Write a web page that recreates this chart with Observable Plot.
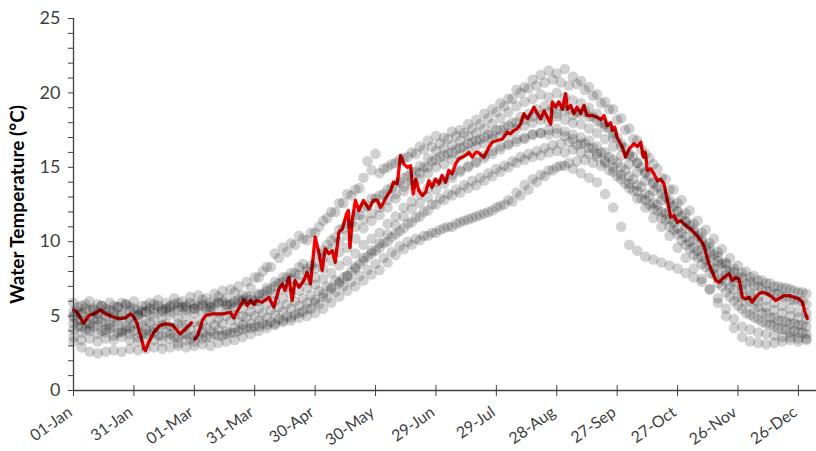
<!DOCTYPE html>
<html><head><meta charset="utf-8">
<script src="https://cdn.jsdelivr.net/npm/d3@7"></script>
<script src="https://cdn.jsdelivr.net/npm/@observablehq/plot@0.6"></script>
<style>
body{margin:0;background:#fff;}
g[aria-label="y-axis label"] text{font-weight:bold;font-size:19px;fill:#000;}
</style></head><body><div id="chart"></div>
<script>
// x tick positions (day of year) and labels
const xTickDays = [0,30,60,90,120,150,180,210,240,270,300,330,360];
const xTickLabels = ["01-Jan","31-Jan","01-Mar","31-Mar","30-Apr","30-May","29-Jun","29-Jul","28-Aug","27-Sep","27-Oct","26-Nov","26-Dec"];
const yTicks = d3.range(0, 26, 1);

// grey cloud: several years sampled every 4 days
const gDays = d3.range(0, 365, 4);   // 0..364
const g2Days = d3.range(2, 365, 4);  // 2..362
const year1 = [5.9,5.7,6.0,5.8,5.5,5.7,5.9,5.6,5.4,5.7, 5.8,5.5,5.7,5.9,5.6,5.8,6.1,5.9,6.3,6.2, 6.6,6.4,6.9,7.6,8.3,9.2,9.6,9.9,10.4,10.1, 10.6,11.4,12.0,12.6,13.2,13.5,14.3,14.8,14.6,15.0, 15.3,15.6,16.0,16.4,16.8,17.1,17.0,17.4,17.5,17.9, 18.2,18.6,18.9,19.3,19.6,20.2,20.4,20.9,21.2,21.5, 21.3,21.6,21.1,20.8,20.4,19.9,19.4,18.9,18.3,17.6, 16.8,15.9,15.2,14.3,13.5,12.6,11.9,11.2,10.6,9.9, 9.3,8.6,8.2,7.9,7.6,7.4,7.2,7.0,6.9,6.8, 6.6,6.5];
const year2 = [5.3,5.1,5.4,5.2,5.0,5.3,5.1,4.9,5.1,5.3, 5.2,5.4,5.3,5.6,5.4,5.5,5.7,5.6,5.9,5.8, 6.0,6.1,6.3,6.5,6.9,7.3,7.6,7.9,8.3,8.2, 8.6,9.4,10.1,10.8,11.2,11.8,12.3,12.9,13.1,13.5, 13.9,14.3,14.7,15.1,15.6,16.1,16.3,16.5,16.8,17.1, 17.3,17.6,17.9,18.3,18.7,19.1,19.4,19.6,19.9,19.7, 20.0,19.7,19.5,19.3,19.0,18.6,17.9,17.3,16.6,15.9, 15.3,14.7,14.0,13.5,12.8,12.1,11.4,10.8,10.2,9.6, 9.0,8.5,8.0,7.6,7.3,7.0,6.7,6.5,6.3,6.1, 6.0,5.8];
const year3 = [4.9,4.7,4.5,4.8,4.6,4.9,4.7,4.8,5.0,4.7, 4.9,4.8,5.1,4.9,5.0,5.2,5.1,5.3,5.2,5.5, 5.6,5.5,5.8,6.0,6.3,6.5,6.8,7.0,7.3,7.4, 7.6,8.2,8.7,9.3,9.6,10.2,10.9,11.4,11.8,12.3, 12.9,13.4,13.8,14.2,14.6,15.0,15.2,15.5,15.8,16.1, 16.4,16.6,16.9,17.1,17.3,17.6,17.8,18.0,18.2,18.1, 18.4,18.2,18.0,17.9,17.6,17.3,16.9,16.4,15.8,15.2, 14.7,14.1,13.4,12.8,12.1,11.5,10.9,10.1,9.5,8.9, 8.4,7.8,7.3,6.8,6.4,6.0,5.6,5.4,5.2,5.0, 4.9,4.8];
const year4 = [4.5,4.3,4.2,4.4,4.1,4.3,4.0,4.2,4.3,4.1, 4.2,4.4,4.3,4.5,4.4,4.6,4.5,4.7,4.8,5.0, 5.1,5.0,5.3,5.5,5.8,6.0,6.2,6.5,6.7,6.9, 7.1,7.5,7.9,8.4,8.7,9.2,9.8,10.2,10.6,11.2, 11.7,12.3,12.7,13.2,13.6,14.0,14.2,14.5,14.8,15.0, 15.3,15.6,15.9,16.2,16.5,16.7,16.9,17.2,17.3,17.5, 17.6,17.4,17.2,17.0,16.8,16.4,16.0,15.5,15.0,14.4, 13.8,13.2,12.6,12.0,11.5,10.9,10.3,9.6,9.0,8.4, 7.8,7.3,6.8,6.3,6.0,5.6,5.2,4.9,4.7,4.5, 4.4,4.3];
const year5 = [4.1,3.9,4.0,3.8,3.9,3.7,3.9,3.8,3.6,3.8, 3.9,3.7,3.8,3.6,3.8,3.7,3.9,4.0,4.1,4.0, 4.2,4.4,4.5,4.7,4.9,5.1,5.3,5.5,5.7,5.9, 6.1,6.5,6.9,7.3,7.7,8.2,8.7,9.2,9.6,10.0, 10.5,10.9,11.3,11.7,12.1,12.5,12.8,13.1,13.3,13.6, 13.8,14.1,14.4,14.7,15.0,15.3,15.5,15.7,15.8,16.0, 16.1,16.0,16.2,16.0,15.9,15.7,15.4,15.0,14.5,13.9, 13.4,12.8,12.2,11.6,11.0,10.5,9.8,9.1,8.5,7.9, 7.2,6.6,6.0,5.5,5.1,4.8,4.5,4.3,4.1,3.9, 3.9,3.8];
const year6 = [3.6,3.4,3.5,3.3,3.5,3.4,3.6,3.4,3.3,3.5, 3.4,3.3,3.5,3.2,3.4,3.3,3.5,3.6,3.7,3.8, 3.9,4.1,4.2,4.3,4.4,4.5,4.6,4.7,4.9,5.0, 5.2,5.5,5.9,6.3,6.7,7.0,7.4,7.8,8.1,8.6, 9.1,9.5,9.8,10.1,10.4,10.6,10.9,11.0,11.3,11.5, 11.7,11.9,12.1,12.4,12.8,13.3,13.8,14.2,14.5,14.8, 15.0,15.1,14.9,14.6,14.3,14.0,13.2,12.3,11.0,9.8, 9.4,9.0,8.8,8.6,8.4,8.2,7.9,7.6,7.3,6.8, 6.2,5.5,4.8,4.3,4.1,3.9,3.8,3.7,3.6,3.6, 3.5,3.5];
const year7 = [3.3,2.9,2.6,2.5,2.6,2.7,2.6,2.8,2.7,2.8, 2.9,2.8,2.9,3.0,2.9,3.0,3.1,3.0,3.2,3.3, 3.4,3.6,3.8,4.0,4.2,4.4,4.7,4.9,5.2,5.5, 5.9,6.3,6.8,7.2,7.7,8.3,8.9,9.4,9.9,10.5, 11.1,11.7,12.2,12.6,13.0,13.5,13.9,14.3,14.7,15.1, 15.4,15.8,16.1,16.4,16.6,16.9,17.0,17.2,17.3,17.2, 17.3,17.1,16.9,16.6,16.3,15.9,15.3,14.7,14.2,13.6, 12.9,12.3,11.6,11.0,10.4,9.6,8.9,8.2,7.5,6.8, 5.9,5.0,4.2,3.6,3.3,3.2,3.1,3.2,3.3,3.4, 3.3,3.4];
const year8 = [5.0,5.2,4.9,5.1,5.3,5.0,5.2,5.4,5.1,5.3, 5.5,5.3,5.6,5.4,5.7,5.5,5.8,5.6,5.9,5.7, 5.9,6.0,6.1,6.4,6.7,7.0,7.3,7.5,7.8,8.0, 8.2,8.9,9.5,10.0,10.4,11.0,11.5,11.9,12.3,12.8, 13.2,13.7,14.1,14.6,15.0,15.5,15.8,16.0,16.3,16.6, 16.8,17.0,17.2,17.5,17.8,18.0,18.2,18.4,18.5,18.7, 18.6,18.8,18.5,18.6,18.4,18.1,17.7,17.0,16.4,15.8, 15.3,14.6,13.9,13.2,12.6,12.0,11.3,10.6,10.0,9.3, 8.7,8.1,7.5,7.0,6.6,6.3,6.1,5.9,5.7,5.5, 5.3,5.2];
const year9 = [5.6,5.8,5.5,5.7,5.4,5.6,5.8,5.5,5.3,5.5, 5.7,5.5,5.8,5.6,5.9,5.7,5.5,5.8,6.0,5.8, 6.1,6.3,6.0,6.5,6.8,7.2,7.6,7.9,8.5,8.4, 9.2,9.8,10.3,10.9,11.3,11.8,12.4,12.9,13.2,13.6, 14.0,14.4,14.7,15.0,15.4,15.7,15.9,16.2,16.4,16.7, 16.9,17.2,17.5,17.7,18.0,18.4,18.6,18.9,19.1,19.0, 19.1,18.9,18.7,18.8,18.4,18.0,17.6,17.0,16.3,15.7, 15.0,14.4,13.7,13.0,12.4,11.7,11.1,10.4,9.7,9.1, 8.5,8.0,7.6,7.2,7.0,6.8,6.6,6.5,6.3,6.1, 6.0];
const year10 = [4.7,4.5,4.8,4.6,4.4,4.6,4.3,4.5,4.4,4.6, 4.3,4.5,4.2,4.4,4.1,4.3,4.2,4.4,4.5,4.7, 4.6,4.9,5.0,5.2,5.4,5.6,5.8,6.0,6.2,6.4, 6.7,7.0,7.4,7.6,8.0,8.5,9.0,9.4,9.9,10.3, 10.7,11.2,11.6,12.0,12.5,12.9,13.2,13.5,13.8,14.1, 14.3,14.6,14.9,15.1,15.4,15.7,15.9,16.1,16.3,16.5, 16.6,16.7,16.5,16.6,16.3,16.0,15.7,15.3,14.8,14.2, 13.7,13.1,12.5,11.9,11.3,10.6,10.0,9.4,8.8,8.2, 7.5,6.9,6.3,5.9,5.5,5.2,4.9,4.7,4.6,4.5, 4.4];
const year11 = [5.3,5.5,5.4,5.7,5.9,5.6,5.8,6.0,5.7,5.9, 6.1,5.9,6.2,6.0,6.3,6.4,6.2,6.5,6.7,6.8, 7.0,7.3,7.6,8.0,8.3,8.9,9.3,9.8,10.2,10.6, 11.0,11.6,12.0,12.6,13.1,13.6,15.4,15.9,14.9,15.2, 15.5,15.7,15.9,16.2,16.4,16.6,16.9,17.1,17.3,17.6, 17.9,18.3,18.7,19.1,19.6,20.0,20.3,20.5,20.7,20.9, 20.7,20.5,20.6,20.2,19.8,19.3,18.9,18.2,17.5,16.9, 16.2,15.6,14.9,14.2,13.5,12.8,12.1,11.4,10.8,10.2, 9.5,8.9,8.4,8.0,7.7,7.4,7.2,7.0,6.9,6.7, 6.6];
const year12 = [4.3,4.1,4.3,4.0,4.2,3.9,4.1,4.0,3.8,4.0, 3.7,3.9,3.6,3.8,3.5,3.7,3.6,3.8,3.7,3.9, 4.0,4.2,4.3,4.5,4.6,4.8,5.0,5.1,5.3,5.5, 5.8,6.2,6.6,7.0,7.3,7.7,8.1,8.5,8.9,9.3, 9.7,10.0,10.2,10.4,10.6,10.8,11.0,11.2,11.4,11.6, 11.8,12.0,12.3,12.5,12.7,13.1,13.5,14.0,14.4,14.8, 15.1,15.3,15.4,15.5,15.3,15.1,14.8,14.4,13.9,13.4, 12.9,12.5,12.1,11.5,10.8,10.1,9.5,8.9,8.3,7.8, 7.0,6.3,5.7,5.2,4.9,4.6,4.4,4.2,4.1,4.0, 3.9];

// highlighted year (red line): [day, temperature]
const redYear = [[0,5.42],[1.8,5.26],[5,4.52],[7.6,5.04],[10,5.15],[11.8,5.26],[13.4,5.42],[16,5.15],[19,4.97],[22.5,4.82],[25.8,4.88],[28.3,5.15],[30,4.93],[31.6,4.48],[33.3,3.70],[35,2.80],[35.8,2.69],[37.4,3.25],[40,3.92],[43,4.37],[45.7,4.48],[49,4.41],[53,3.81],[54.8,4.03],[58.6,4.55],[59.5,NaN],[60.3,3.45],[62,3.81],[64,4.70],[65.6,5.04],[69,5.15],[74.7,5.15],[78,5.26],[79.6,4.88],[82,5.49],[84.6,6.09],[86.3,5.71],[88,6.05],[89.6,5.78],[91,6.05],[93.7,5.93],[97,6.27],[99.5,5.6],[102,6.83],[103.7,7.17],[105,6.72],[107,7.6],[108.6,6.05],[110,7.39],[112,6.94],[114.4,7.39],[116,7.95],[117.7,7.17],[120,10.3],[122,9.18],[123.5,8.06],[125,9.52],[126.8,9.18],[128.5,9.4],[130,8.62],[131.8,10.64],[133.5,10.86],[135.6,11.87],[136.5,12.1],[137.3,9.6],[138.5,11.5],[140,12.77],[141.7,12.1],[144,12.77],[146.7,12.2],[149,12.8],[150.9,12.77],[152.5,12.3],[154,12.65],[155.8,13.1],[157.5,13.44],[159,14.0],[160.8,13.9],[162.4,15.8],[164,15.23],[165.8,15.0],[167.4,15.1],[168.7,13.2],[170,14.2],[171.5,13.44],[173.2,13.1],[174.9,13.33],[176.5,14.1],[178,13.66],[179.8,14.2],[181.5,13.9],[183,14.45],[184.8,14.0],[186.4,14.8],[188,14.56],[189.8,15.23],[191.4,15.57],[193,15.68],[194.7,15.8],[196.4,16.0],[198,15.68],[199.7,16.0],[201,16.0],[203.8,15.68],[206.3,16.35],[208,16.7],[210.5,16.8],[213,16.9],[215.4,17.36],[217,17.25],[218.7,17.47],[220.4,17.6],[222,17.9],[223.7,18.6],[225.4,18.26],[227,18.6],[228.7,19.04],[230.4,18.6],[232,18.26],[233.7,18.8],[235.3,18.37],[237,17.9],[237.8,19.4],[239.4,19.04],[241,19.4],[242.8,18.9],[244.4,19.94],[245.3,18.9],[246.9,19.15],[248.5,18.6],[250,19.04],[251.9,18.6],[253.5,19.15],[255,18.48],[257.7,18.48],[260,18.37],[261.8,18.2],[263.5,18.48],[265,17.8],[266.8,18.0],[267.6,17.47],[268.8,17.7],[270,17.0],[272.6,16.35],[274.2,15.68],[276,16.24],[278.3,16.58],[280,16.4],[281.7,16.69],[283,15.68],[284,16.0],[285,14.8],[286.6,14.9],[288.3,14.56],[290,14.1],[291.6,14.2],[293.2,13.9],[295,12.77],[296.6,11.65],[298.2,11.76],[299.9,11.3],[301.5,11.4],[303.2,11.2],[305,10.97],[306.5,10.86],[308,10.64],[309.8,10.4],[311.5,10.1],[313,9.75],[315.6,8.5],[317.3,7.95],[319,7.39],[320.6,7.28],[323,7.6],[325.6,7.84],[327.2,7.39],[328.9,7.6],[330.5,7.5],[332.2,6.27],[333.8,6.16],[335.5,6.27],[337,5.93],[338.8,6.27],[340.4,6.5],[342,6.6],[344.6,6.5],[347,6.27],[348.7,6.05],[350.4,6.16],[352.9,6.38],[355.4,6.38],[357.8,6.27],[360.3,6.16],[362,5.93],[363,5.38],[364.4,4.82]];

const yearsA = [year1, year2, year3, year4, year5, year6, year7, year8];
const yearsB = [year9, year10, year11, year12];
const cloud = [
  ...yearsA.flatMap(vals => vals.map((t, j) => ({day: gDays[j], t}))),
  ...yearsB.flatMap(vals => vals.map((t, j) => ({day: g2Days[j], t})))
];
const labelByDay = new Map(xTickDays.map((d, i) => [d, xTickLabels[i]]));

const chart = Plot.plot({
  width: 816, height: 451,
  marginLeft: 73, marginRight: 0, marginTop: 18, marginBottom: 61,
  style: {fontFamily: "Lato, 'Open Sans', sans-serif", background: "white", overflow: "visible"},
  x: {type: "linear", domain: [0, 369]},
  y: {domain: [0, 25]},
  marks: [
    Plot.line(redYear, {x: d => d[0], y: d => d[1], stroke: "#ff0000", strokeWidth: 3.3}),
    Plot.dot(cloud, {x: "day", y: "t", r: 5.3, fill: "black", fillOpacity: 0.18, stroke: "none"}),
    Plot.ruleX([0], {stroke: "#404040", strokeWidth: 1.3}),
    Plot.ruleY([0], {stroke: "#404040", strokeWidth: 1.3}),
    Plot.axisY({ticks: yTicks, tickSize: 5, tickPadding: 8, tickFormat: d => d % 5 === 0 ? String(d) : "",
      fontSize: 18, color: "#404040", label: "Water Temperature (°C)", labelAnchor: "center", labelArrow: "none", labelOffset: 63}),
    Plot.axisX({ticks: xTickDays, tickSize: 11, dy: -5, tickFormat: () => "", label: null, color: "#404040"}),
    Plot.axisX({ticks: xTickDays, tickSize: 0, tickPadding: 20, dx: -3, tickFormat: d => labelByDay.get(d), tickRotate: -35,
      fontSize: 16, label: null, color: "#404040"})
  ]
});
document.getElementById("chart").appendChild(chart);
</script></body></html>
